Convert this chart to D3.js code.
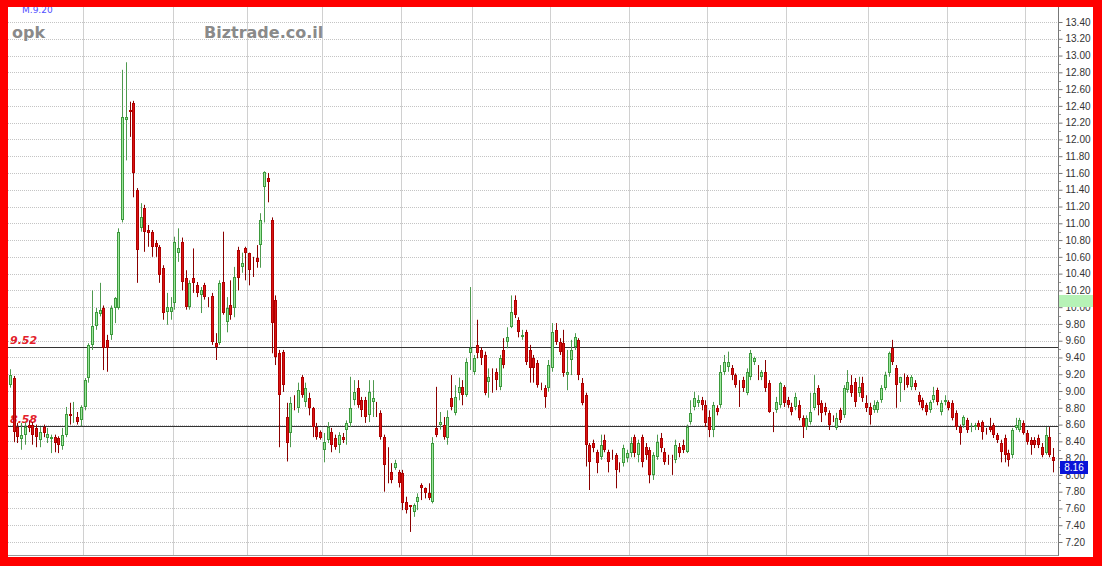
<!DOCTYPE html>
<html><head><meta charset="utf-8">
<script src="https://cdn.jsdelivr.net/npm/d3@7"></script>
<style>html,body{margin:0;padding:0;background:#fff;overflow:hidden}svg{display:block}</style>
</head><body>
<svg id="c" width="1102" height="566"></svg>
<script>
// ---- data ----
const openP = [
9.07,9.155,8.57,8.43,8.48,8.60,8.60,8.56,8.42,8.57,
8.44,8.43,8.45,8.44,8.34,8.48,8.73,8.74,8.69,8.65,
8.81,9.155,9.55,9.775,9.92,9.99,9.61,9.67,9.99,9.99,
11.04,12.23,12.35,12.43,11.40,10.94,11.18,10.92,10.90,10.77,
10.72,10.47,9.94,9.94,10.05,10.65,10.78,10.35,10.00,10.35,
10.26,10.14,10.26,10.05,10.13,9.57,9.57,10.30,9.82,10.03,
9.99,10.68,10.48,10.70,10.65,10.51,10.59,10.74,11.43,11.54,
11.04,10.09,9.45,9.47,8.69,8.50,8.81,8.80,9.17,8.87,
8.92,8.80,8.57,8.51,8.30,8.42,8.51,8.44,8.36,8.45,
8.54,8.62,8.89,9.04,8.89,8.89,8.71,8.87,8.84,8.74,
8.45,8.18,8.03,8.08,8.03,8.02,7.68,7.64,7.56,7.68,
7.88,7.84,7.78,7.68,8.56,8.60,8.60,8.44,8.92,8.74,
8.98,9.05,8.95,9.45,9.23,9.55,9.49,9.43,9.11,9.23,
9.23,9.05,9.49,9.585,9.76,10.09,9.85,9.64,9.70,9.49,
9.39,9.33,9.05,9.04,9.04,9.27,9.73,9.585,9.57,9.19,
9.37,9.525,9.61,9.095,8.95,8.36,8.38,8.27,8.21,8.42,
8.27,8.245,8.24,8.085,8.14,8.20,8.26,8.45,8.24,8.45,
8.33,8.30,8.00,8.21,8.44,8.27,8.18,8.18,8.18,8.33,
8.36,8.27,8.63,8.81,8.86,8.89,8.83,8.69,8.535,8.80,
8.83,9.23,9.29,9.27,9.19,9.10,9.13,8.98,9.17,9.35,
9.275,9.17,9.23,9.095,8.72,8.77,8.83,9.05,8.89,8.81,
8.81,8.83,8.68,8.57,8.63,8.80,9.04,8.86,8.81,8.74,
8.685,8.56,8.77,8.71,9.01,9.07,9.11,8.98,9.095,8.86,
8.81,8.77,8.77,8.89,9.04,9.21,9.51,9.275,9.095,9.10,
9.17,9.05,9.095,8.95,8.89,8.83,8.77,8.89,9.01,8.75,
8.87,8.87,8.86,8.74,8.57,8.595,8.65,8.56,8.57,8.62,
8.63,8.515,8.57,8.60,8.48,8.38,8.44,8.26,8.24,8.56,
8.535,8.62,8.50,8.42,8.42,8.44,8.33,8.26,8.45,8.21];
const highP = [
9.26,9.18,8.62,8.62,8.63,8.65,8.63,8.60,8.57,8.60,
8.56,8.48,8.48,8.46,8.56,8.81,8.86,8.87,8.75,8.83,
9.155,9.57,10.20,9.99,10.29,10.02,9.67,10.02,10.12,10.94,
12.83,12.92,12.45,12.46,11.42,11.24,11.22,10.98,10.92,10.80,
10.74,10.50,10.17,10.12,10.84,10.94,10.83,10.44,10.32,10.70,
10.30,10.24,10.29,10.12,10.17,9.69,10.32,10.90,10.12,10.32,
10.48,10.72,10.65,10.72,10.65,10.60,10.74,11.12,11.62,11.60,
11.07,10.14,9.49,9.49,8.86,8.93,8.95,9.10,9.19,9.10,
8.98,8.81,8.62,8.53,8.50,8.63,8.56,8.48,8.51,8.50,
8.65,9.17,9.13,9.13,8.93,8.93,9.13,9.13,8.87,8.77,
8.48,8.33,8.14,8.18,8.06,8.06,7.74,7.64,7.66,7.78,
7.90,7.85,7.90,8.45,9.05,8.75,8.69,8.77,9.19,9.07,
9.16,9.13,9.39,10.24,9.43,9.85,9.52,9.47,9.27,9.27,
9.27,9.43,9.63,9.76,10.14,10.14,9.88,9.73,9.73,9.55,
9.43,9.37,9.10,9.07,9.37,9.81,9.81,9.63,9.73,9.49,
9.61,9.69,9.63,9.155,8.98,8.38,8.42,8.30,8.48,8.48,
8.30,8.30,8.26,8.15,8.36,8.30,8.45,8.48,8.42,8.48,
8.38,8.33,8.27,8.48,8.50,8.32,8.24,8.24,8.42,8.38,
8.42,8.60,8.89,8.99,8.95,8.93,8.89,8.77,8.87,8.83,
9.31,9.43,9.47,9.31,9.21,9.13,9.17,9.27,9.49,9.41,
9.31,9.25,9.37,9.13,8.75,8.93,9.11,9.07,8.93,8.86,
8.98,8.89,8.71,8.71,8.98,9.19,9.07,8.89,8.86,8.77,
8.71,8.74,8.80,9.07,9.25,9.19,9.155,9.17,9.17,8.95,
8.86,8.89,8.89,9.07,9.23,9.47,9.61,9.31,9.17,9.21,
9.19,9.19,9.13,8.99,8.92,8.86,8.89,9.05,9.04,8.89,
8.95,8.89,8.89,8.77,8.60,8.71,8.68,8.62,8.62,8.65,
8.65,8.56,8.68,8.62,8.50,8.42,8.48,8.30,8.56,8.68,
8.68,8.65,8.535,8.45,8.45,8.48,8.38,8.57,8.57,8.32];
const lowP = [
9.04,8.39,8.38,8.30,8.36,8.51,8.36,8.33,8.33,8.45,
8.38,8.26,8.27,8.26,8.30,8.45,8.60,8.62,8.60,8.58,
8.77,9.10,9.49,9.73,9.89,9.25,9.23,9.61,9.81,9.97,
11.01,11.75,12.03,11.31,10.29,10.90,10.66,10.72,10.60,10.60,
10.29,9.85,9.79,9.85,9.97,10.54,10.20,9.97,9.97,10.17,
10.12,9.93,10.09,10.00,9.55,9.37,9.55,9.91,9.70,9.85,
9.88,10.20,10.41,10.32,10.26,10.36,10.47,10.47,11.01,11.25,
9.45,9.31,8.33,8.99,8.16,8.33,8.77,8.74,8.92,8.81,
8.71,8.45,8.42,8.42,8.15,8.38,8.27,8.30,8.26,8.38,
8.36,8.57,8.83,8.80,8.69,8.62,8.63,8.69,8.69,8.42,
7.80,7.90,7.90,8.06,7.85,7.58,7.54,7.32,7.50,7.58,
7.70,7.72,7.70,7.66,8.45,8.54,8.42,8.36,8.77,8.71,
8.89,8.83,8.93,9.25,9.19,9.39,9.31,8.95,8.92,8.98,
9.01,9.01,9.27,9.51,9.75,9.87,9.64,9.61,9.31,9.10,
9.10,9.04,9.01,8.80,8.99,9.23,9.55,9.43,9.17,9.01,
9.19,9.49,9.13,8.83,8.10,7.82,8.27,8.02,8.18,8.27,
8.03,8.18,7.84,8.03,8.10,8.15,8.21,8.21,8.15,8.09,
8.18,7.90,7.94,8.18,8.27,8.12,8.12,8.00,8.14,8.21,
8.26,8.26,8.60,8.77,8.81,8.77,8.57,8.45,8.45,8.71,
8.80,9.19,9.23,9.13,9.04,8.81,8.99,8.95,9.13,9.31,
9.13,9.13,8.99,8.74,8.51,8.74,8.80,8.81,8.80,8.71,
8.77,8.65,8.44,8.535,8.60,8.77,8.71,8.63,8.71,8.535,
8.63,8.535,8.62,8.68,8.98,8.93,8.81,8.93,8.87,8.75,
8.60,8.74,8.74,8.86,9.01,9.17,9.31,8.80,8.87,9.01,
9.04,9.01,9.01,8.83,8.77,8.71,8.74,8.86,8.83,8.71,
8.83,8.77,8.65,8.535,8.36,8.56,8.50,8.51,8.535,8.535,
8.42,8.48,8.51,8.44,8.38,8.15,8.15,8.10,8.20,8.535,
8.51,8.48,8.36,8.24,8.32,8.32,8.21,8.24,8.21,8.03];
const closeP = [
9.19,8.51,8.45,8.48,8.57,8.56,8.48,8.45,8.51,8.50,
8.49,8.45,8.38,8.36,8.48,8.73,8.70,8.75,8.63,8.81,
9.13,9.55,9.775,9.94,9.97,9.51,9.51,9.99,10.11,10.90,
12.27,12.27,12.33,11.60,10.68,11.08,10.90,10.88,10.72,10.72,
10.38,9.93,10.00,10.00,10.78,10.71,10.30,10.00,10.29,10.29,
10.17,10.20,10.12,10.04,9.58,9.52,10.29,9.93,9.99,9.91,
10.36,10.35,10.53,10.65,10.44,10.50,10.54,11.04,11.61,11.49,
9.81,9.41,8.95,9.07,8.38,8.86,8.80,9.01,8.95,9.04,
8.80,8.57,8.45,8.44,8.39,8.57,8.36,8.33,8.48,8.42,
8.62,8.80,8.99,8.83,8.77,8.69,8.99,8.92,8.83,8.45,
8.12,8.17,7.94,8.14,7.90,7.66,7.58,7.62,7.64,7.74,
7.84,7.78,7.72,8.38,8.48,8.63,8.45,8.69,8.81,8.93,
9.05,8.95,9.35,9.51,9.39,9.45,9.39,8.98,9.17,9.22,
9.13,9.39,9.31,9.645,9.94,9.91,9.70,9.67,9.35,9.27,
9.27,9.07,9.04,8.93,9.31,9.70,9.585,9.47,9.21,9.23,
9.49,9.645,9.19,8.86,8.36,8.15,8.32,8.14,8.36,8.30,
8.15,8.235,8.06,8.075,8.32,8.26,8.38,8.26,8.38,8.15,
8.24,8.00,8.24,8.39,8.32,8.15,8.17,8.17,8.36,8.26,
8.30,8.57,8.74,8.92,8.89,8.83,8.62,8.535,8.83,8.75,
9.23,9.35,9.35,9.19,9.07,9.09,9.04,9.23,9.45,9.39,
9.265,9.23,9.04,8.75,8.71,8.87,9.095,8.86,8.83,8.75,
8.93,8.68,8.57,8.68,8.75,8.98,8.83,8.74,8.75,8.60,
8.675,8.68,8.65,9.04,9.11,8.98,8.87,9.05,8.92,8.80,
8.71,8.83,8.87,9.04,9.19,9.45,9.35,9.07,9.17,9.09,
9.07,9.17,9.05,8.87,8.80,8.75,8.87,8.95,8.87,8.86,
8.89,8.80,8.68,8.57,8.50,8.69,8.535,8.57,8.60,8.57,
8.51,8.505,8.535,8.48,8.42,8.27,8.24,8.18,8.535,8.60,
8.65,8.50,8.39,8.36,8.36,8.36,8.24,8.48,8.24,8.16];

const yTicks = [13.4,13.2,13.0,12.8,12.6,12.4,12.2,12.0,11.8,11.6,11.4,11.2,11.0,10.8,10.6,10.4,10.2,10.0,9.8,9.6,9.4,9.2,9.0,8.8,8.6,8.4,8.2,8.0,7.8,7.6,7.4,7.2];
const monthStarts = [20,44,64,84,105,124,145,166,187,208,230,251,272];
const refLines = [9.52, 8.58];
const lastPrice = 8.16;
const markerPrice = 10.14;
const symbolName = "opk";
const brandName = "Biztrade.co.il";
const topNote = "M.9.20";

// ---- layout ----
const svg = d3.select('#c');
const P = {left: 8, right: 1058, top: 7, bottom: 556};
const idx = d3.range(openP.length);
const x = d3.scaleBand().domain(idx).range([8, 1055]).padding(0);
const y = d3.scaleLinear().domain([7.2, 13.4]).range([542, 22]);

svg.append('rect').attr('x',0).attr('y',0).attr('width',1102).attr('height',566).attr('fill','#fff');

// horizontal grid
svg.append('g').selectAll('line').data(yTicks).join('line')
  .attr('x1', P.left).attr('x2', P.right)
  .attr('y1', d => Math.round(y(d)) + 0.5).attr('y2', d => Math.round(y(d)) + 0.5)
  .attr('stroke', '#c4c4c4').attr('stroke-dasharray', '1,1');
// vertical grid (month boundaries)
svg.append('g').selectAll('line').data(monthStarts).join('line')
  .attr('x1', d => Math.round(x(d)) + 0.5).attr('x2', d => Math.round(x(d)) + 0.5)
  .attr('y1', P.top).attr('y2', P.bottom)
  .attr('stroke', '#d0d0d0');

// header texts
svg.append('text').attr('x', 22).attr('y', 13).text(topNote)
  .attr('font-family', 'DejaVu Sans').attr('font-size', 9).attr('fill', '#5050ff');
svg.append('text').attr('x', 12).attr('y', 38).text(symbolName)
  .attr('font-family', 'DejaVu Sans').attr('font-weight', 'bold').attr('font-size', 16).attr('fill', '#8a8a8a');
svg.append('text').attr('x', 204).attr('y', 38).text(brandName)
  .attr('font-family', 'DejaVu Sans').attr('font-weight', 'bold').attr('font-size', 16).attr('fill', '#8a8a8a');

// reference lines
const rl = svg.append('g');
refLines.forEach(v => {
  const yy = Math.round(y(v)) + 0.5;
  rl.append('line').attr('x1', P.left).attr('x2', P.right).attr('y1', yy).attr('y2', yy)
    .attr('stroke', '#333').attr('stroke-width', 1);
  rl.append('text').attr('x', 10).attr('y', yy - 4).text(v.toFixed(2))
    .attr('font-family', 'DejaVu Sans').attr('font-style', 'italic').attr('font-weight', 'bold')
    .attr('font-size', 11).attr('fill', '#e3202a');
});

// candles
const cg = svg.append('g');
idx.forEach(i => {
  const o = openP[i], c = closeP[i], h = highP[i], l = lowP[i];
  const up = c >= o;
  const cx = Math.round(x(i) + x.bandwidth() / 2);
  const wick = up ? '#4f9a4f' : '#8a0000';
  cg.append('line').attr('x1', cx + 0.5).attr('x2', cx + 0.5)
    .attr('y1', y(h)).attr('y2', y(l)).attr('stroke', wick).attr('stroke-width', 1);
  const top = Math.round(y(Math.max(o, c))), bot = Math.round(y(Math.min(o, c)));
  cg.append('rect').attr('x', cx - 0.5).attr('y', top + 0.5)
    .attr('width', 2).attr('height', Math.max(0, bot - top - 1))
    .attr('fill', up ? '#9ee89e' : '#d81414')
    .attr('stroke', up ? '#3d9a3d' : '#b00000').attr('stroke-width', 1);
});

// right axis
const axis = d3.axisRight(y).tickValues(yTicks).tickFormat(d3.format('.2f')).tickSize(4).tickPadding(3);
const ag = svg.append('g').attr('transform', 'translate(1058.5,0)').call(axis);
ag.select('.domain').remove();
ag.selectAll('.tick line').attr('stroke', '#777');
ag.selectAll('.tick text').attr('font-family', 'Liberation Sans, Arial, sans-serif').attr('font-size', 10).attr('fill', '#333');
const minor = d3.pairs(yTicks).map(p => (p[0] + p[1]) / 2);
svg.append('g').selectAll('line').data(minor).join('line')
  .attr('x1', 1058).attr('x2', 1061)
  .attr('y1', d => Math.round(y(d)) + 0.5).attr('y2', d => Math.round(y(d)) + 0.5)
  .attr('stroke', '#999');
svg.append('line').attr('x1', 1058.5).attr('x2', 1058.5).attr('y1', P.top).attr('y2', P.bottom)
  .attr('stroke', '#777');
svg.append('line').attr('x1', P.left).attr('x2', 1058.5).attr('y1', 555.5).attr('y2', 555.5)
  .attr('stroke', '#999');

// marker box (no text)
svg.append('rect').attr('x', 1059).attr('y', Math.round(y(markerPrice)))
  .attr('width', 35).attr('height', 12).attr('fill', '#b6f2b6');
// last price box
const ly = Math.round(y(lastPrice));
svg.append('rect').attr('x', 1060).attr('y', ly).attr('width', 28).attr('height', 13).attr('fill', '#0a14d8');
svg.append('text').attr('x', 1074).attr('y', ly + 10).attr('text-anchor', 'middle').text(lastPrice.toFixed(2))
  .attr('font-family', 'Liberation Sans, Arial, sans-serif').attr('font-size', 10).attr('fill', '#fff');

// red frame
const red = '#ff0000';
svg.append('rect').attr('x', 0).attr('y', 0).attr('width', 1102).attr('height', 7).attr('fill', red);
svg.append('rect').attr('x', 0).attr('y', 0).attr('width', 8).attr('height', 566).attr('fill', red);
svg.append('rect').attr('x', 1093).attr('y', 0).attr('width', 9).attr('height', 566).attr('fill', red);
svg.append('rect').attr('x', 0).attr('y', 557).attr('width', 1102).attr('height', 9).attr('fill', red);
</script>
</body></html>
